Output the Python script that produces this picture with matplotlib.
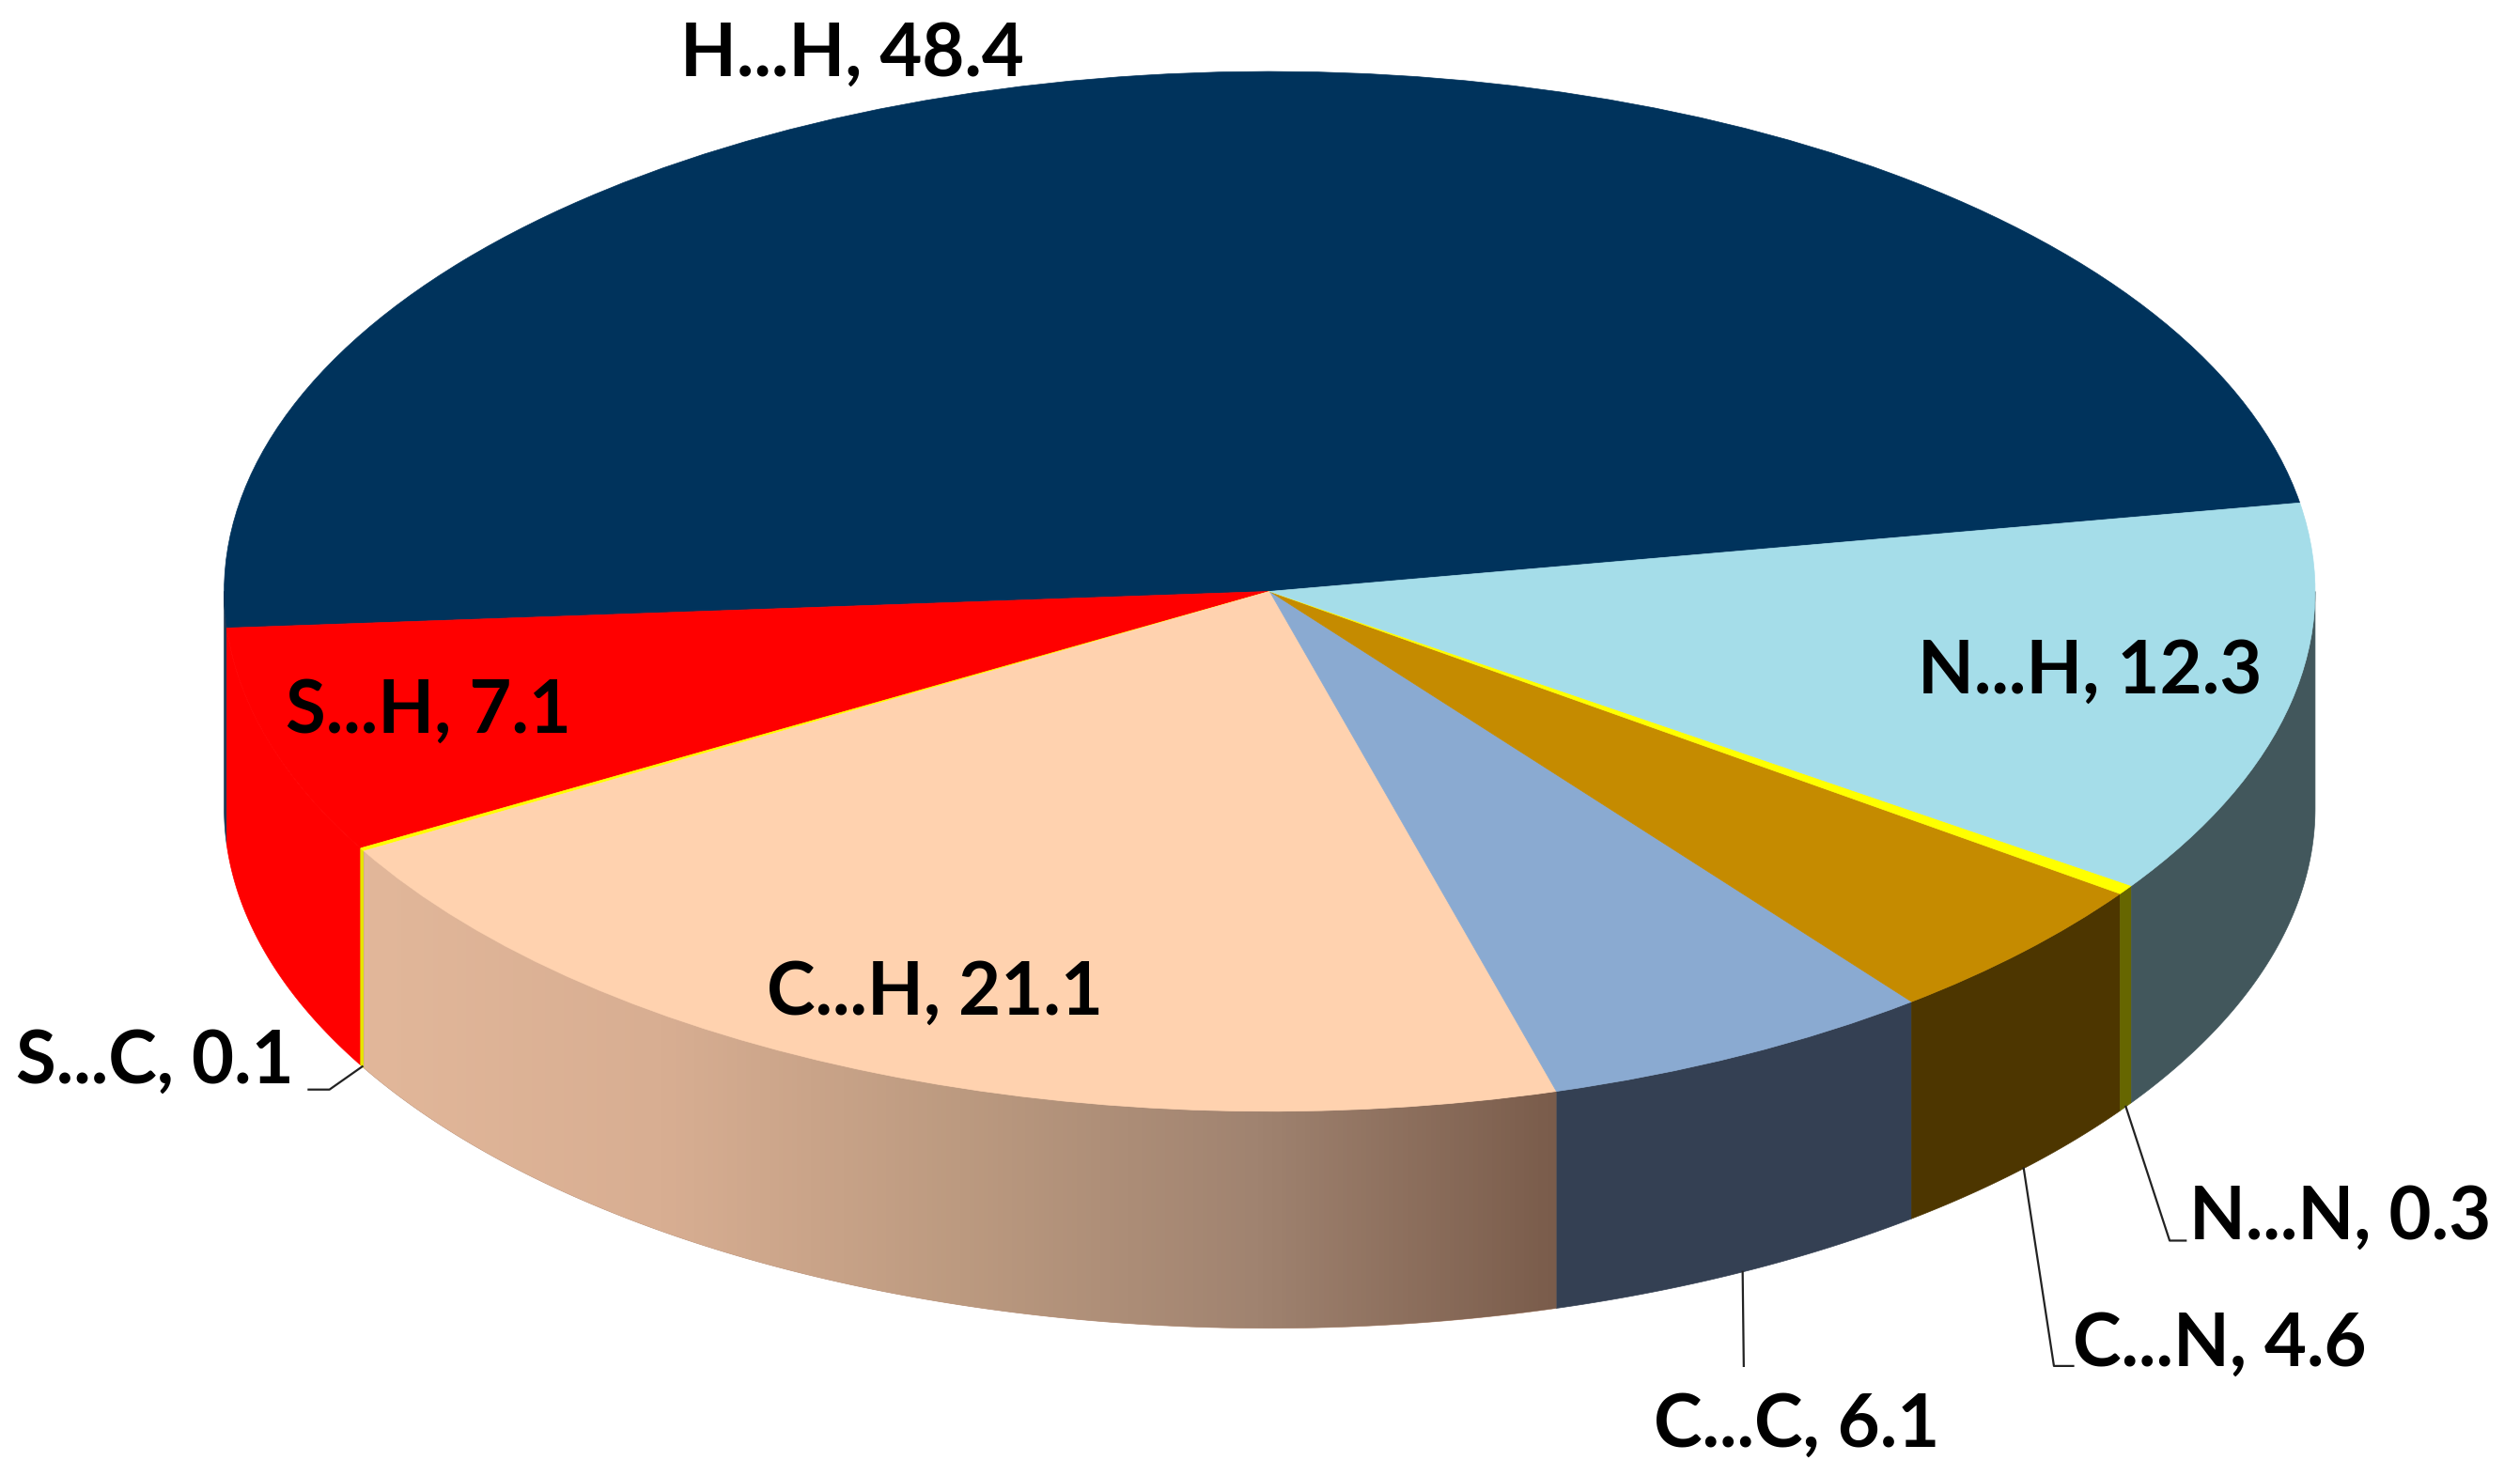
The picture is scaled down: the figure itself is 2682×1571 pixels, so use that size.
import numpy as np
import matplotlib
matplotlib.use('Agg')
import matplotlib.pyplot as plt
from matplotlib.colors import LinearSegmentedColormap
from matplotlib.patches import Polygon

categories = ['H...H', 'S...H', 'S...C', 'C...H', 'C...C', 'C...N', 'N...N', 'N...H']
values = [48.4, 7.1, 0.1, 21.1, 6.1, 4.6, 0.3, 12.3]
top_colors = ['#00335C', '#FF0000', '#FFFF00', '#FFD2AF', '#8AAAD1', '#C58B00', '#FFFF00', '#A5DDE9']
side_colors = ['#1F3A55', '#FF0000', '#E6E600', '#B89078', '#344053', '#4D3600', '#666600', '#42575C']
gradient_colors = ['#E2B79A', '#D8AE92', '#BC9A80', '#A08370', '#7A5C4B']

start_angle = 9.8
W, H = 2682, 1571
scale = W / 1568
# geometry of the top ellipse, read on the 1568 wide view
cx, cy = 790 * scale, 368 * scale
a, b = 650.5 * scale, 323.5 * scale
depth = 135 * scale / b


def px(x, y):
    # position read on the 1568 wide view -> axes data
    return (x * scale - cx) / a, (cy - y * scale) / b


fig = plt.figure(figsize=(W / 100, H / 100), dpi=100)
ax = fig.add_axes([0, 0, 1, 1])

edges = start_angle + np.cumsum([0] + values) * 3.6

# side wall, only the part facing us
for i in range(len(values)):
    t1 = max(edges[i], 180)
    t2 = min(edges[i + 1], 360)
    if t2 <= t1:
        continue
    t = np.radians(np.linspace(t1, t2, 120))
    xs = np.r_[np.cos(t), np.cos(t)[::-1]]
    ys = np.r_[np.sin(t), np.sin(t)[::-1] - depth]
    poly = Polygon(np.c_[xs, ys], closed=True, facecolor=side_colors[i], edgecolor=side_colors[i], linewidth=0.5)
    ax.add_patch(poly)
    if categories[i] == 'C...H':
        cmap = LinearSegmentedColormap.from_list('wall', gradient_colors)
        im = ax.imshow(np.linspace(0, 1, 256)[None, :], cmap=cmap, aspect='auto',
                       extent=[xs.min(), xs.max(), ys.min(), ys.max()], zorder=1.5)
        im.set_clip_path(poly)

wedges, _ = ax.pie(values, colors=top_colors, startangle=start_angle, counterclock=True, radius=1,
                   frame=True, wedgeprops={'linewidth': 0.5, 'zorder': 2})
for w, c in zip(wedges, top_colors):
    w.set_edgecolor(c)

ax.set_aspect('auto')
ax.set_xlim(-cx / a, (W - cx) / a)
ax.set_ylim((cy - H) / b, cy / b)
ax.axis('off')

# leader lines start at the rim below the middle of the slice
mid = (edges[:-1] + edges[1:]) / 2
leaders = {'S...C': [(205, 678), (192, 678)],
           'C...C': [(1085, 850)],
           'C...N': [(1278, 850), (1290, 850)],
           'N...N': [(1350, 772), (1360, 772)]}
for name, pts in leaders.items():
    m = np.radians(mid[categories.index(name)])
    line = [(np.cos(m), np.sin(m) - depth)] + [px(*p) for p in pts]
    ax.plot(*zip(*line), color='#222222', lw=1.6, zorder=3)

label_pos = {'H...H': (423, 47), 'N...H': (1193, 431), 'S...H': (178, 456), 'C...H': (477, 631),
             'S...C': (10, 674), 'C...N': (1290, 850), 'N...N': (1362, 771), 'C...C': (1029, 900)}
for name, val in zip(categories, values):
    x, y = px(*label_pos[name])
    ax.text(x, y, f'{name}, {val}', family='Lato', fontweight='bold', fontsize=56,
            color='black', ha='left', va='baseline', zorder=4)

fig.savefig('out.png', dpi=100, facecolor='white')
